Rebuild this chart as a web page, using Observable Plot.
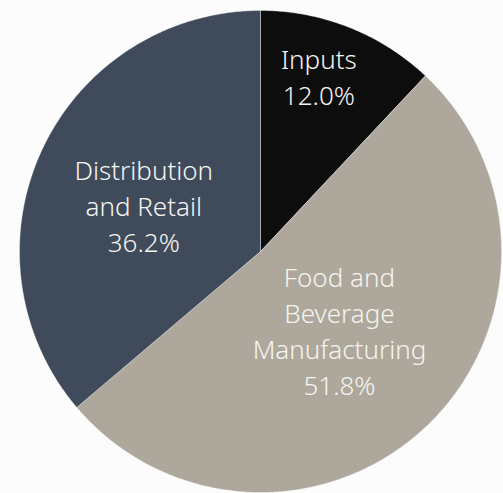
<!DOCTYPE html>
<html>
<head>
<meta charset="utf-8">
<script src="https://cdn.jsdelivr.net/npm/d3@7"></script>
<script src="https://cdn.jsdelivr.net/npm/@observablehq/plot@0.6"></script>
<style>
  html, body { margin: 0; padding: 0; background: #fcfcfc; }
  #chart svg { display: block; }
</style>
</head>
<body>
<div id="chart"></div>
<script>
// Data
const categories = ["Inputs", "Food and Beverage Manufacturing", "Distribution and Retail"];
const labelText = ["Inputs", "Food and\nBeverage\nManufacturing", "Distribution\nand Retail"];
const shares = [12.0, 51.8, 36.2];
const sliceColors = ["#0d0d0d", "#ada89b", "#3f4a5a"];

const W = 503, H = 493;
const cx = 260, cy = 251, R = 241;

const rows = categories.map((c, i) => ({category: c, label: labelText[i], share: shares[i]}));
const arcs = d3.pie().sort(null).value(d => d.share)(rows);

// Outline points of each slice (unit radius, angle clockwise from top)
const outline = [];
for (const a of arcs) {
  const n = Math.max(2, Math.ceil((a.endAngle - a.startAngle) / (Math.PI / 360)));
  outline.push({category: a.data.category, x: 0, y: 0});
  for (let k = 0; k <= n; k++) {
    const t = a.startAngle + (a.endAngle - a.startAngle) * k / n;
    outline.push({category: a.data.category, x: Math.sin(t), y: Math.cos(t)});
  }
  outline.push({category: a.data.category, x: 0, y: 0});
}

const labelsPos = arcs.map(a => {
  const mid = (a.startAngle + a.endAngle) / 2 - 0.055;
  const small = (a.endAngle - a.startAngle) < Math.PI / 2;
  const frac = small ? 0.765 : 0.49;
  return {
    small,
    x: frac * Math.sin(mid),
    y: frac * Math.cos(mid),
    text: `${a.data.label}\n${a.data.share.toFixed(1)}%`
  };
});

const textStyle = {
  x: "x", y: "y", text: "text",
  fill: "#f4f4f0",
  fontSize: 26,
  fontWeight: 300,
  lineHeight: 1.385,
  fontFamily: "'Noto Sans', sans-serif"
};

const chart = Plot.plot({
  width: W,
  height: H,
  margin: 0,
  x: {domain: [-cx / R, (W - cx) / R], axis: null},
  y: {domain: [-(H - cy) / R, cy / R], axis: null},
  color: {domain: categories, range: sliceColors},
  style: {background: "#fcfcfc"},
  marks: [
    Plot.line(outline, {x: "x", y: "y", z: "category", fill: "category", stroke: "#ffffff", strokeWidth: 0.6, strokeOpacity: 0.6, curve: "linear"}),
    Plot.text(labelsPos.filter(d => d.small), {...textStyle, dy: -1}),
    Plot.text(labelsPos.filter(d => !d.small), {...textStyle, dx: -7, dy: -3})
  ]
});

document.getElementById("chart").appendChild(chart);
</script>
</body>
</html>
